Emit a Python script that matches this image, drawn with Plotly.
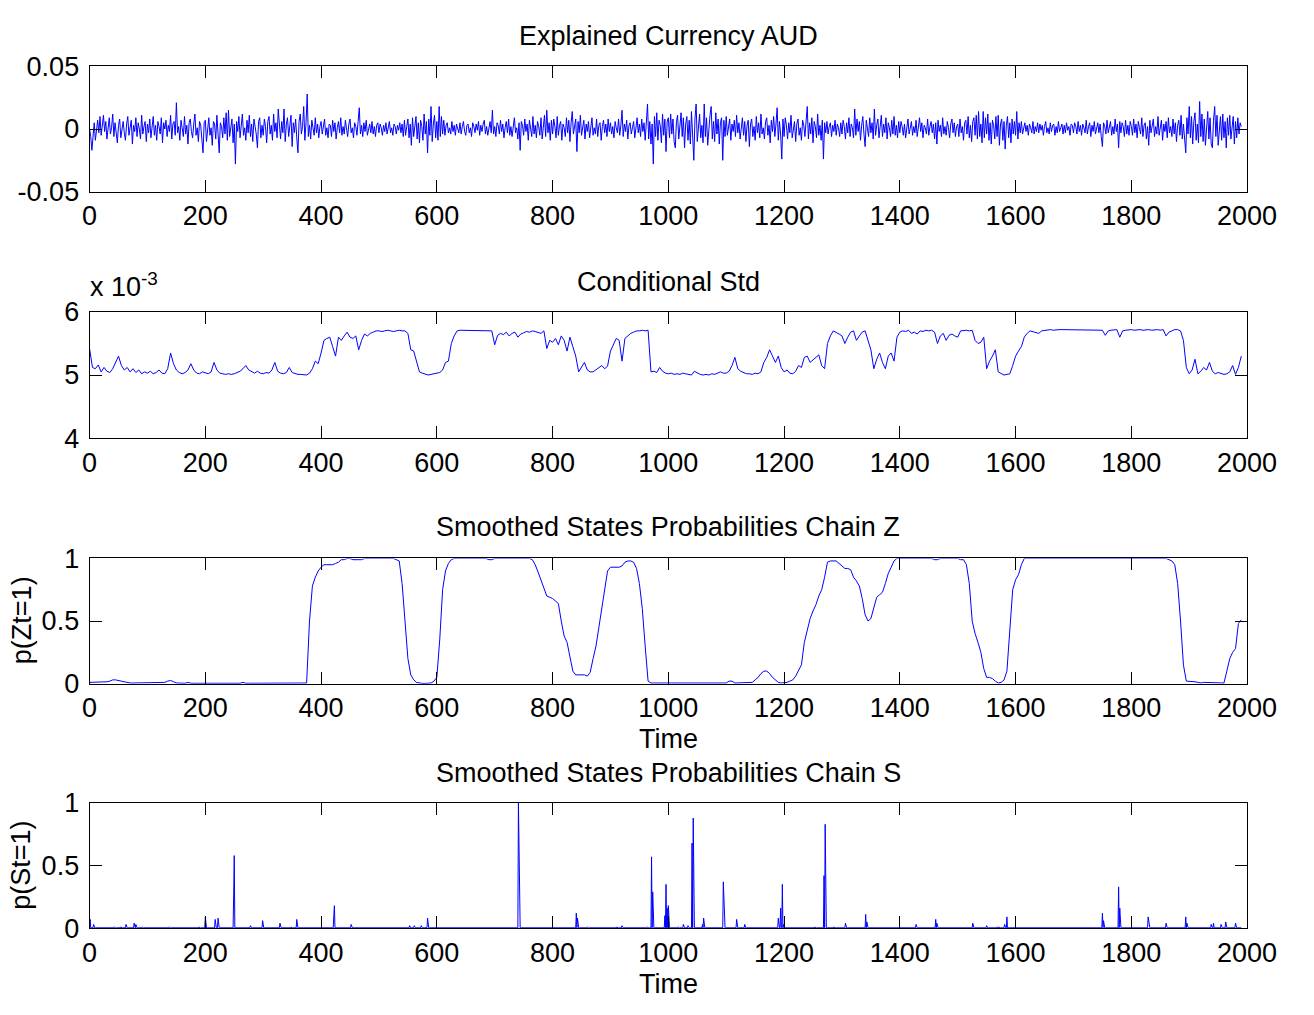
import numpy as np
import plotly.graph_objects as go

# ---------------- data ----------------
# Panel 1: explained currency AUD returns, every 2 steps (units of 1e-3); one row per 100 time units
ret_step = 2
ret_e3_rows = [
    [0, -6, -17, -4, 5, -9, 2, 7, -3, 10, -5, 4, 11, -2, 6, -8, 3, 9, -4, 1, 12, -6, 5, -1, -11, 3, 8, -7, 2, 6, -3, -9, 4, 10, -5, 1, 7, -12, 3, -2, 9, -6, 5, 0, -8, 11, -4, 2, 6, -10],
    [4, -3, 8, -7, 1, 10, -5, 3, -9, 6, 2, -4, 9, -11, 5, 0, 7, -6, 3, -2, 11, -8, 4, 6, -5, 21, -3, 2, -9, 7, 1, -6, 10, -4, 3, -12, 5, 8, -2, -7, 4, 12, -5, 1, -10, 6, 3, -8, -19, 5],
    [7, -10, 3, 9, -5, 1, -13, 6, 4, -8, 11, -3, -19, 5, 2, -7, 9, -4, 13, -9, 15, -6, 3, 8, -11, 4, -28, 6, -2, 10, -7, 3, 12, -5, 1, -9, 7, -3, 11, -6, 4, -10, 8, 2, -4, -15, 6, 9, -7, 3],
    [-5, 8, 2, -11, 6, 10, -4, 3, -9, 12, -2, 5, -7, 16, 1, -8, 6, -3, 16, -10, 4, 9, -6, 2, 11, -14, 5, -3, 8, -7, -19, 6, 12, -4, 2, 18, -9, 5, 28, -6, 3, -8, 7, 1, -5, 9, -3, 4, -7, 2],
    [6, -4, 2, 8, -5, 1, -7, 4, 3, -6, 7, -2, 5, -8, 1, 6, -3, 9, -5, 2, -4, 7, 0, -6, 4, 8, -3, 1, -7, 5, 2, -5, 6, 17, -4, 3, -6, 5, -2, 7, -5, 1, 4, -3, 6, -4, 2, -6, 3, 5],
    [-3, 4, 1, -5, 3, -2, 5, -4, 2, 6, -3, 1, -5, 4, 2, -4, 3, -1, 5, -3, 4, -6, 7, -5, 2, 8, -7, 4, -13, 9, -6, 3, 10, -8, 5, -11, 7, 2, -9, 12, -4, 6, -19, 8, -5, 18, -10, 4, 11, -7],
    [6, -9, 18, -6, 10, -4, 7, -5, 3, 5, -3, 1, -4, 6, -2, 3, -5, 4, 1, -3, 5, -4, 2, 6, -2, -5, 3, 4, -3, 1, -6, 5, 2, -3, 4, -1, 6, -5, 3, -2, 4, 7, -4, 2, -5, 3, 6, -3, 15, -4],
    [2, -6, 5, 3, -4, 7, -2, 4, -7, 1, 6, -3, 8, -5, 2, -6, 4, 9, -3, 1, -8, 5, -17, 6, 3, -5, 8, -2, 4, -9, 7, 1, -6, 10, -4, 3, -7, 6, 2, -5, 9, -8, 4, 11, -6, 15, -3, 5, -9, 7],
    [-4, 8, 2, -7, 10, -5, 3, 6, -9, 4, 1, -6, 9, -3, 7, -10, 5, 14, -4, 2, 8, -18, 6, -3, 11, -5, 2, 7, -8, 4, -2, 6, -7, 3, 9, -5, 1, -4, 8, -6, 3, 5, -9, 2, 7, -3, 4, -6, 8, -2],
    [5, -4, 2, -7, 6, 1, -3, 8, -5, 3, 15, -6, 4, -2, 7, -8, 3, 5, -4, 1, 6, -7, 2, 9, -3, 4, -6, 8, -2, 5, -9, 3, 20, -8, 6, -12, 4, -28, 10, -6, 13, -9, 7, 3, -11, 12, -5, 8, -18, 6],
    [9, -7, 12, -4, 8, -10, -15, 6, 11, -8, 3, 13, -6, 9, -15, 4, 10, -9, 7, -12, 14, -5, -25, 8, 20, -10, 5, 12, -7, 3, -11, 20, -6, 9, -13, 4, 11, 18, -8, 6, -10, 13, -4, 8, -12, 5, 9, -25, 7, -6],
    [10, -5, 3, 8, -9, 4, -2, 7, -6, 11, -3, 5, -8, 2, 9, -5, 6, -10, 3, 7, -14, 4, 8, -6, 2, -9, 10, -3, 5, -7, 12, -4, 1, -8, 6, 9, -5, 3, -11, 7, -2, 10, -6, 4, 17, -9, 6, -4, -24, 8],
    [-6, 9, 3, -8, 5, -3, 11, -7, 2, 6, -10, 4, 8, -5, 1, -9, 7, 3, -6, 10, 18, -8, 5, -4, 9, -11, 6, 2, -7, 12, -5, 3, -9, 7, -24, 5, -3, 6, -4, 2, 5, -6, 3, -2, 7, -5, 4, 1, -6, 5],
    [-4, 7, 2, -8, 5, -3, 9, -6, 4, 1, -7, 16, -5, 8, -2, 6, -9, 3, 10, -4, -14, 7, 2, -6, 9, -3, 5, -8, 16, -5, 3, 8, -7, 2, 11, -6, 4, -3, 9, -8, 5, 1, -6, 7, -4, 10, -5, 3, -7, 6],
    [-3, 6, 2, -5, 4, -7, 3, 8, -4, 1, 6, -5, 2, -3, 7, -6, 4, 9, -2, 5, -7, 3, 1, -4, 8, -5, 2, 6, -3, 4, -8, 5, -12, 7, -2, 3, -6, 9, -4, 2, -5, 6, 1, -7, 4, 8, -3, 5, -6, 2],
    [4, -6, 8, -3, 2, -9, 5, 7, -4, 10, -7, 3, -10, 6, 9, -5, 11, -8, 14, -6, 4, -11, 14, -7, 9, -4, 12, -9, 5, -12, 7, 3, -8, 10, -6, 11, -13, 4, 8, -9, 6, -16, 3, 10, -7, 5, -11, 8, -4, 6],
    [-5, 14, -8, 5, -3, 6, -4, 2, 5, -2, 3, -5, 4, 1, -3, 6, -4, 2, -2, 5, -3, 4, -1, 3, -5, 2, 6, -3, 1, -4, 5, -2, 3, 4, -5, 2, -3, 6, -2, 1, 4, -4, 3, -3, 5, -1, 2, -5, 4, 3],
    [-3, 5, 2, -4, 6, -2, 3, -5, 4, 1, -3, 7, -4, 2, 5, -6, 3, -2, 6, -4, 1, 5, -3, 4, -6, -14, 5, 2, -4, 7, -3, 3, 6, -5, 2, -4, 8, -2, 4, -15, 6, -3, 5, 2, -6, 7, -4, 3, -5, 6],
    [2, -5, 8, -3, 4, -7, 6, 1, -4, 9, -6, 3, 5, -8, 2, -13, 7, -3, 5, 8, -6, 2, -4, 10, -5, 3, 7, -9, 4, -2, 6, -7, 9, -3, 2, -6, 8, -4, 5, -10, 3, 7, -5, 11, -8, 4, -6, -19, 9, -4],
    [18, -7, 10, -12, 6, 13, -9, 4, -11, 22, -6, 12, -10, 8, -13, 5, 14, -8, 9, -12, -15, 7, 18, -6, 11, -13, 4, 10, -9, 12, -7, 6, -15, 9, -5, 11, -8, 3, 10, -12, 6, -7, 9, -4, 5, 2],
]

# Panel 2: conditional std, every 5 steps (units of 1e-3); one row per 100 time units
std_step = 5
cond_std_e3_rows = [
    [5.42, 5.12, 5.10, 5.16, 5.05, 5.12, 5.06, 5.04, 5.10, 5.20, 5.30, 5.15, 5.08, 5.12, 5.05, 5.10, 5.04, 5.08, 5.02, 5.05],
    [5.03, 5.06, 5.02, 5.04, 5.08, 5.03, 5.02, 5.10, 5.35, 5.18, 5.08, 5.04, 5.02, 5.04, 5.08, 5.18, 5.08, 5.03, 5.02, 5.05],
    [5.03, 5.02, 5.05, 5.20, 5.08, 5.03, 5.02, 5.01, 5.02, 5.01, 5.02, 5.04, 5.06, 5.10, 5.15, 5.08, 5.05, 5.03, 5.06, 5.03],
    [5.02, 5.04, 5.03, 5.08, 5.20, 5.06, 5.03, 5.02, 5.04, 5.12, 5.04, 5.02, 5.01, 5.01, 5.00, 5.00, 5.03, 5.10, 5.22, 5.18],
    [5.35, 5.55, 5.58, 5.60, 5.45, 5.30, 5.60, 5.55, 5.62, 5.68, 5.60, 5.58, 5.62, 5.40, 5.55, 5.65, 5.62, 5.66, 5.68, 5.70],
    [5.70, 5.69, 5.70, 5.71, 5.70, 5.69, 5.70, 5.71, 5.70, 5.70, 5.66, 5.40, 5.38, 5.20, 5.05, 5.03, 5.02, 5.00, 5.01, 5.02],
    [5.02, 5.04, 5.08, 5.20, 5.22, 5.50, 5.62, 5.70, 5.71, 5.71, 5.71, 5.70, 5.71, 5.71, 5.71, 5.70, 5.71, 5.71, 5.71, 5.70],
    [5.48, 5.63, 5.66, 5.64, 5.68, 5.62, 5.66, 5.68, 5.60, 5.65, 5.67, 5.69, 5.68, 5.70, 5.69, 5.68, 5.66, 5.70, 5.42, 5.55],
    [5.52, 5.58, 5.48, 5.62, 5.55, 5.38, 5.60, 5.45, 5.30, 5.05, 5.12, 5.20, 5.08, 5.05, 5.05, 5.08, 5.12, 5.15, 5.10, 5.14],
    [5.38, 5.48, 5.58, 5.55, 5.22, 5.58, 5.62, 5.66, 5.68, 5.70, 5.70, 5.71, 5.70, 5.71, 5.05, 5.06, 5.04, 5.12, 5.06, 5.03],
    [5.02, 5.03, 5.01, 5.02, 5.01, 5.03, 5.02, 5.01, 5.00, 5.06, 5.03, 5.01, 5.00, 5.01, 5.00, 5.02, 5.01, 5.03, 5.05, 5.03],
    [5.03, 5.06, 5.15, 5.28, 5.10, 5.06, 5.04, 5.02, 5.02, 5.01, 5.03, 5.02, 5.05, 5.20, 5.28, 5.40, 5.30, 5.20, 5.30, 5.12],
    [5.05, 5.08, 5.03, 5.02, 5.06, 5.15, 5.12, 5.28, 5.30, 5.20, 5.24, 5.28, 5.32, 5.15, 5.10, 5.50, 5.62, 5.70, 5.68, 5.65],
    [5.62, 5.50, 5.60, 5.68, 5.70, 5.55, 5.62, 5.68, 5.70, 5.55, 5.40, 5.10, 5.25, 5.35, 5.20, 5.10, 5.30, 5.35, 5.22, 5.60],
    [5.68, 5.70, 5.69, 5.71, 5.66, 5.68, 5.65, 5.70, 5.69, 5.71, 5.70, 5.71, 5.68, 5.50, 5.62, 5.66, 5.55, 5.63, 5.65, 5.62],
    [5.60, 5.70, 5.71, 5.71, 5.70, 5.71, 5.55, 5.50, 5.52, 5.60, 5.10, 5.22, 5.30, 5.40, 5.05, 5.02, 5.00, 5.01, 5.02, 5.15],
    [5.30, 5.38, 5.45, 5.60, 5.66, 5.70, 5.69, 5.68, 5.66, 5.70, 5.71, 5.71, 5.72, 5.71, 5.72, 5.72, 5.72, 5.72, 5.72, 5.72],
    [5.72, 5.72, 5.72, 5.71, 5.72, 5.72, 5.72, 5.71, 5.72, 5.72, 5.71, 5.63, 5.70, 5.71, 5.72, 5.72, 5.60, 5.70, 5.71, 5.72],
    [5.72, 5.71, 5.72, 5.72, 5.71, 5.72, 5.72, 5.71, 5.72, 5.72, 5.71, 5.72, 5.62, 5.68, 5.70, 5.72, 5.72, 5.70, 5.55, 5.12],
    [5.02, 5.08, 5.25, 5.02, 5.06, 5.12, 5.08, 5.20, 5.06, 5.02, 5.04, 5.03, 5.01, 5.02, 5.05, 5.15, 5.01, 5.12, 5.30],
]

# Panel 3: smoothed probability chain Z, every 5 steps; one row per 100 time units
pz_step = 5
pz_rows = [
    [0.01, 0.01, 0.01, 0.01, 0.01, 0.01, 0.015, 0.02, 0.03, 0.03, 0.025, 0.015, 0.01, 0.005, 0.005, 0.005, 0.005, 0.005, 0.005, 0.005],
    [0.005, 0.005, 0.005, 0.005, 0.005, 0.005, 0.01, 0.02, 0.025, 0.015, 0.005, 0.005, 0.003, 0.003, 0.01, 0.003, 0.003, 0.003, 0.003, 0.003],
    [0.003] * 13 + [0.01] + [0.003] * 6,
    [0.003] * 15 + [0.005, 0.5, 0.78, 0.85, 0.9],
    [0.93, 0.95, 0.95, 0.95, 0.95, 0.96, 0.97, 0.99, 0.99, 1.0, 1.0, 0.99, 0.99, 0.99, 0.99, 1.0, 1.0, 1.0, 1.0, 1.0],
    [1.0, 1.0, 1.0, 1.0, 1.0, 1.0, 0.99, 0.98, 0.8, 0.5, 0.2, 0.07, 0.03, 0.01, 0.005, 0.002, 0.002, 0.002, 0.005, 0.02],
    [0.05, 0.35, 0.75, 0.9, 0.96, 0.99] + [1.0] * 12 + [0.99, 0.99],
    [1.0] * 13 + [0.99, 0.95, 0.89, 0.83, 0.76, 0.7, 0.69],
    [0.68, 0.66, 0.64, 0.5, 0.38, 0.33, 0.2, 0.1, 0.07, 0.07, 0.07, 0.07, 0.06, 0.09, 0.2, 0.3, 0.45, 0.6, 0.78, 0.9],
    [0.93, 0.93, 0.93, 0.93, 0.94, 0.97, 0.98, 0.98, 0.97, 0.92, 0.8, 0.6, 0.3, 0.02, 0.005, 0.005, 0.01, 0.01, 0.005, 0.005],
    [0.005] * 20,
    [0.005, 0.02, 0.02, 0.005, 0.005, 0.005, 0.005, 0.005, 0.008, 0.01, 0.03, 0.05, 0.08, 0.1, 0.1, 0.08, 0.05, 0.03, 0.01, 0.005],
    [0.005, 0.01, 0.02, 0.03, 0.06, 0.1, 0.15, 0.33, 0.42, 0.52, 0.58, 0.63, 0.7, 0.75, 0.85, 0.97, 0.98, 0.98, 0.98, 0.96],
    [0.94, 0.92, 0.92, 0.91, 0.85, 0.82, 0.78, 0.68, 0.55, 0.5, 0.52, 0.6, 0.69, 0.71, 0.73, 0.8, 0.88, 0.93, 0.98, 1.0],
    [1.0] * 12 + [0.99, 0.99] + [1.0] * 6,
    [1.0, 0.99, 0.99, 0.95, 0.8, 0.5, 0.4, 0.33, 0.25, 0.12, 0.05, 0.05, 0.04, 0.02, 0.005, 0.01, 0.03, 0.1, 0.4, 0.75],
    [0.83, 0.87, 0.95] + [1.0] * 17,
    [1.0] * 20,
    [1.0] * 13 + [0.99, 0.98, 0.95, 0.8, 0.5, 0.15, 0.02],
    [0.02, 0.02, 0.015, 0.01, 0.005, 0.01, 0.01, 0.005, 0.005, 0.005, 0.005, 0.005, 0.005, 0.1, 0.2, 0.25, 0.28, 0.48, 0.51],
]

# Panel 4: smoothed probability chain S (sparse spikes on a near-zero floor)
ps_last_time = 1990
ps_floor = 0.003
ps_spike_times = [1, 7, 43, 54, 63, 77, 80, 91, 138, 189, 200, 217, 222, 249, 250, 278, 299, 329, 348, 358,
                  422, 423, 452, 553, 561, 573, 584, 741, 742, 743, 841, 843, 860, 911, 920, 964, 971, 973,
                  994, 996, 998, 1000, 1017, 1026, 1034, 1041, 1043, 1059, 1061, 1095, 1096, 1118, 1132,
                  1190, 1194, 1197, 1199, 1253, 1269, 1271, 1286, 1306, 1341, 1343, 1428, 1462, 1464, 1526,
                  1550, 1568, 1571, 1581, 1585, 1750, 1752, 1778, 1780, 1829, 1830, 1860, 1894, 1896, 1938,
                  1942, 1955, 1963, 1980]
ps_spike_vals = [0.07, 0.03, 0.01, 0.01, 0.03, 0.04, 0.03, 0.01, 0.01, 0.01, 0.09, 0.07, 0.08, 0.28, 0.58, 0.02, 0.06, 0.04, 0.01, 0.07,
                 0.10, 0.18, 0.03, 0.02, 0.02, 0.02, 0.08, 1.0, 0.5, 0.48, 0.12, 0.08, 0.01, 0.01, 0.02, 0.01, 0.57, 0.29,
                 0.10, 0.35, 0.16, 0.18, 0.01, 0.03, 0.02, 0.68, 0.88, 0.03, 0.08, 0.37, 0.18, 0.07, 0.03,
                 0.08, 0.16, 0.35, 0.03, 0.01, 0.42, 0.83, 0.01, 0.04, 0.11, 0.05, 0.03, 0.07, 0.04, 0.04,
                 0.02, 0.01, 0.01, 0.03, 0.09, 0.12, 0.06, 0.33, 0.16, 0.09, 0.04, 0.04, 0.09, 0.04, 0.03,
                 0.04, 0.03, 0.05, 0.04]

titles = ["Explained Currency AUD", "Conditional Std",
          "Smoothed States Probabilities Chain Z", "Smoothed States Probabilities Chain S"]
x_ticks = [0, 200, 400, 600, 800, 1000, 1200, 1400, 1600, 1800, 2000]
row_span = 100


def from_rows(rows, step):
    t = np.concatenate([i * row_span + step * np.arange(len(r)) for i, r in enumerate(rows)])
    v = np.concatenate([np.array(r, dtype=float) for r in rows])
    return t, v


# ---------------- build series ----------------
ret_t, ret_e3 = from_rows(ret_e3_rows, ret_step)
ret = ret_e3 * 1e-3
cstd_t, cstd = from_rows(cond_std_e3_rows, std_step)
pz_t, pz = from_rows(pz_rows, pz_step)
ps_t = np.arange(ps_last_time + 1)
ps = np.full(len(ps_t), ps_floor)
ps[np.array(ps_spike_times)] = np.array(ps_spike_vals)

# ---------------- figure ----------------
W, H = 1314, 1015
FONT = "Liberation Sans, Arial, Helvetica, sans-serif"
FS = 27
BLUE = "#0000FF"

x0, x1 = 84 / W, 1276 / W
panels_px = [(53, 182), (306, 436), (560, 689), (812, 941)]
doms = [[1 - b / H, 1 - t / H] for (t, b) in panels_px]

fig = go.Figure()
series = [(ret_t, ret), (cstd_t, cstd), (pz_t, pz), (ps_t, ps)]
for i, (tx, ty) in enumerate(series):
    ax = "" if i == 0 else str(i + 1)
    fig.add_trace(go.Scatter(x=tx, y=ty, mode="lines", line=dict(color=BLUE, width=1),
                             xaxis="x" + ax, yaxis="y" + ax, showlegend=False, hoverinfo="skip"))

axis_common = dict(showline=True, linecolor="black", linewidth=1, mirror="ticks",
                   ticks="inside", ticklen=12, tickcolor="black", tickwidth=1,
                   showgrid=False, zeroline=False,
                   tickfont=dict(family=FONT, size=FS, color="black"))

yspecs = [
    dict(range=[-0.05, 0.05], tickvals=[-0.05, 0, 0.05], ticktext=["-0.05", "0", "0.05"]),
    dict(range=[4, 6], tickvals=[4, 5, 6], ticktext=["4", "5", "6"]),
    dict(range=[0, 1], tickvals=[0, 0.5, 1], ticktext=["0", "0.5", "1"]),
    dict(range=[0, 1], tickvals=[0, 0.5, 1], ticktext=["0", "0.5", "1"]),
]

layout = dict(width=W, height=H, autosize=False, margin=dict(l=0, r=0, t=0, b=0),
              paper_bgcolor="white", plot_bgcolor="white", showlegend=False,
              font=dict(family=FONT, size=FS, color="black"))
for i in range(4):
    ax = "" if i == 0 else str(i + 1)
    layout["xaxis" + ax] = dict(domain=[x0, x1], range=[0, 2000], tickvals=x_ticks,
                                ticktext=[str(v) for v in x_ticks],
                                anchor="y" + ax, **axis_common)
    layout["yaxis" + ax] = dict(domain=doms[i], anchor="x" + ax, ticklabelstandoff=4,
                                **yspecs[i], **axis_common)
fig.update_layout(**layout)

ann = []
cx = (84 + 1276) / 2 / W
title_y = [22, 275, 528, 781]
for t, yy in zip(titles, title_y):
    ann.append(dict(text=t, x=cx, y=1 - yy / H, xref="paper", yref="paper",
                    xanchor="center", yanchor="middle", showarrow=False,
                    font=dict(family=FONT, size=FS, color="black")))
for yy in [746, 998]:
    ann.append(dict(text="Time", x=cx, y=1 - yy / H, xref="paper", yref="paper",
                    xanchor="center", yanchor="middle", showarrow=False,
                    font=dict(family=FONT, size=FS, color="black")))
for lab, yy in [("p(Zt=1)", 624), ("p(St=1)", 876)]:
    ann.append(dict(text=lab, x=14 / W, y=1 - yy / H, xref="paper", yref="paper",
                    xanchor="center", yanchor="middle", textangle=-90, showarrow=False,
                    font=dict(family=FONT, size=FS, color="black")))
ann.append(dict(text="x 10<sup>-3</sup>", x=82 / W, y=1 - 298 / H, xref="paper", yref="paper",
                xanchor="left", yanchor="bottom", showarrow=False,
                font=dict(family=FONT, size=FS, color="black")))
fig.update_layout(annotations=ann)

fig.write_html("out.html",
               post_script="document.body.style.margin='0';document.body.style.overflow='hidden';")
